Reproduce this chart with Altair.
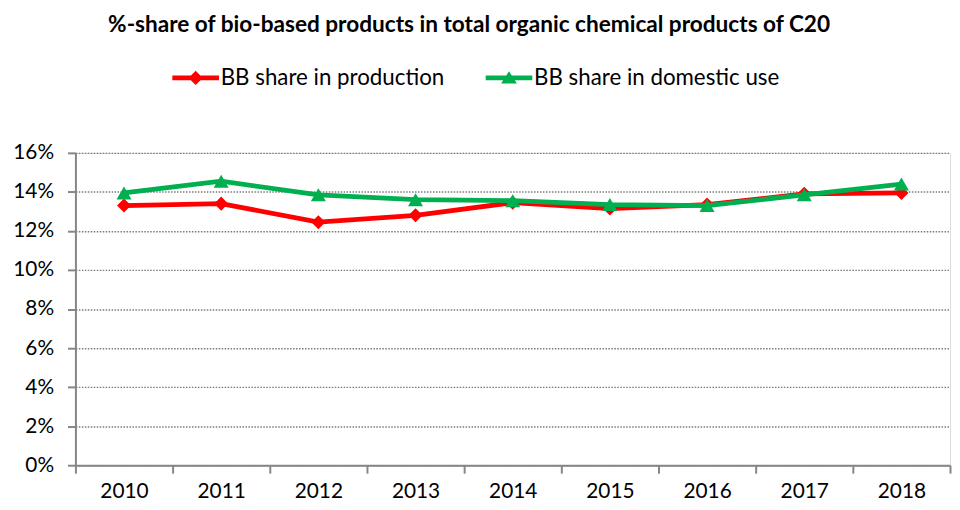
import altair as alt
import pandas as pd

years = ["2010", "2011", "2012", "2013", "2014", "2015", "2016", "2017", "2018"]
production = [0.1330, 0.1340, 0.1245, 0.1280, 0.1345, 0.1315, 0.1335, 0.1390, 0.1395]
domestic = [0.1395, 0.1455, 0.1385, 0.1360, 0.1355, 0.1335, 0.1330, 0.1385, 0.1440]
series_names = ["BB share in production", "BB share in domestic use"]
colors = ["#FF0000", "#00B050"]
y_ticks = [0, 0.02, 0.04, 0.06, 0.08, 0.10, 0.12, 0.14, 0.16]
title_text = "%-share of bio-based products in total organic chemical products of C20"

df = pd.DataFrame({
    "year": years + years,
    "value": production + domestic,
    "series": [series_names[0]] * len(years) + [series_names[1]] * len(years),
})

FONT = "Lato"
AXIS_GRAY = "#868686"

x_enc = alt.X(
    "year:N", title=None,
    scale=alt.Scale(paddingInner=0, paddingOuter=0),
    axis=alt.Axis(
        tickBand="extent", labelAngle=0, grid=False,
        domainColor=AXIS_GRAY, domainWidth=2,
        tickColor=AXIS_GRAY, tickWidth=2, tickSize=8,
        labelPadding=8, labelFont=FONT, labelFontSize=21, labelColor="#000000",
    ),
)
y_enc = alt.Y(
    "value:Q", title=None,
    scale=alt.Scale(domain=[0, 0.16]),
    axis=alt.Axis(
        values=y_ticks, format=".0%",
        domainColor=AXIS_GRAY, domainWidth=2,
        tickColor=AXIS_GRAY, tickWidth=2, tickSize=8,
        labelPadding=14, labelFont=FONT, labelFontSize=21, labelColor="#000000",
        grid=True, gridColor="#7a7a7a", gridDash=[1.5, 1.5], gridWidth=1.4,
    ),
)

cscale = alt.Scale(domain=series_names, range=colors)

prod_path = "M-2.94,-0.31H2.94V0.31H-2.94Z M0,-0.9L0.9,0L0,0.9L-0.9,0Z"
dom_path = "M-2.94,-0.31H2.94V0.31H-2.94Z M0,-0.85L1,0.7L-1,0.7Z"
sscale = alt.Scale(domain=series_names, range=[prod_path, dom_path])

legend = alt.Legend(
    orient="none", legendX=110, legendY=-87, direction="horizontal", title=None,
    labelFont=FONT, labelFontSize=22.5, labelColor="#000000", labelLimit=400,
    symbolSize=256, symbolStrokeWidth=0, labelOffset=14, columnPadding=40,
    padding=0,
)

base = alt.Chart(df)


def series_layers(name, shape, size):
    sub = base.transform_filter(alt.datum.series == name)
    line = sub.mark_line(strokeWidth=4.8).encode(
        x=x_enc, y=y_enc, color=alt.Color("series:N", scale=cscale, legend=None)
    )
    pts = sub.mark_point(shape=shape, filled=True, size=size, opacity=1).encode(
        x=x_enc, y=y_enc, color=alt.Color("series:N", scale=cscale, legend=None)
    )
    return [line, pts]


# legend-only layer: no data rows, entries come from the explicit scale domains
legend_layer = base.transform_filter("false").mark_point(filled=True, opacity=1).encode(
    x=x_enc, y=y_enc,
    color=alt.Color("series:N", scale=cscale, legend=legend),
    shape=alt.Shape("series:N", scale=sscale, legend=legend),
)

layers = [legend_layer] + series_layers(series_names[0], "diamond", 200) + series_layers(series_names[1], "triangle-up", 230)

chart = alt.layer(*layers).properties(
    width=882, height=315,
    title=alt.TitleParams(
        text=title_text, font=FONT, fontSize=22.8, fontWeight="bold", color="#000000",
        anchor="middle", frame="group", dx=-44, offset=30,
    ),
    autosize=alt.AutoSizeParams(type="none"),
    padding={"left": 68, "top": 144, "right": 2, "bottom": 36},
).configure_view(stroke=None).configure(background="white")

chart.save("out.html", embed_options={"renderer": "svg", "actions": False})
